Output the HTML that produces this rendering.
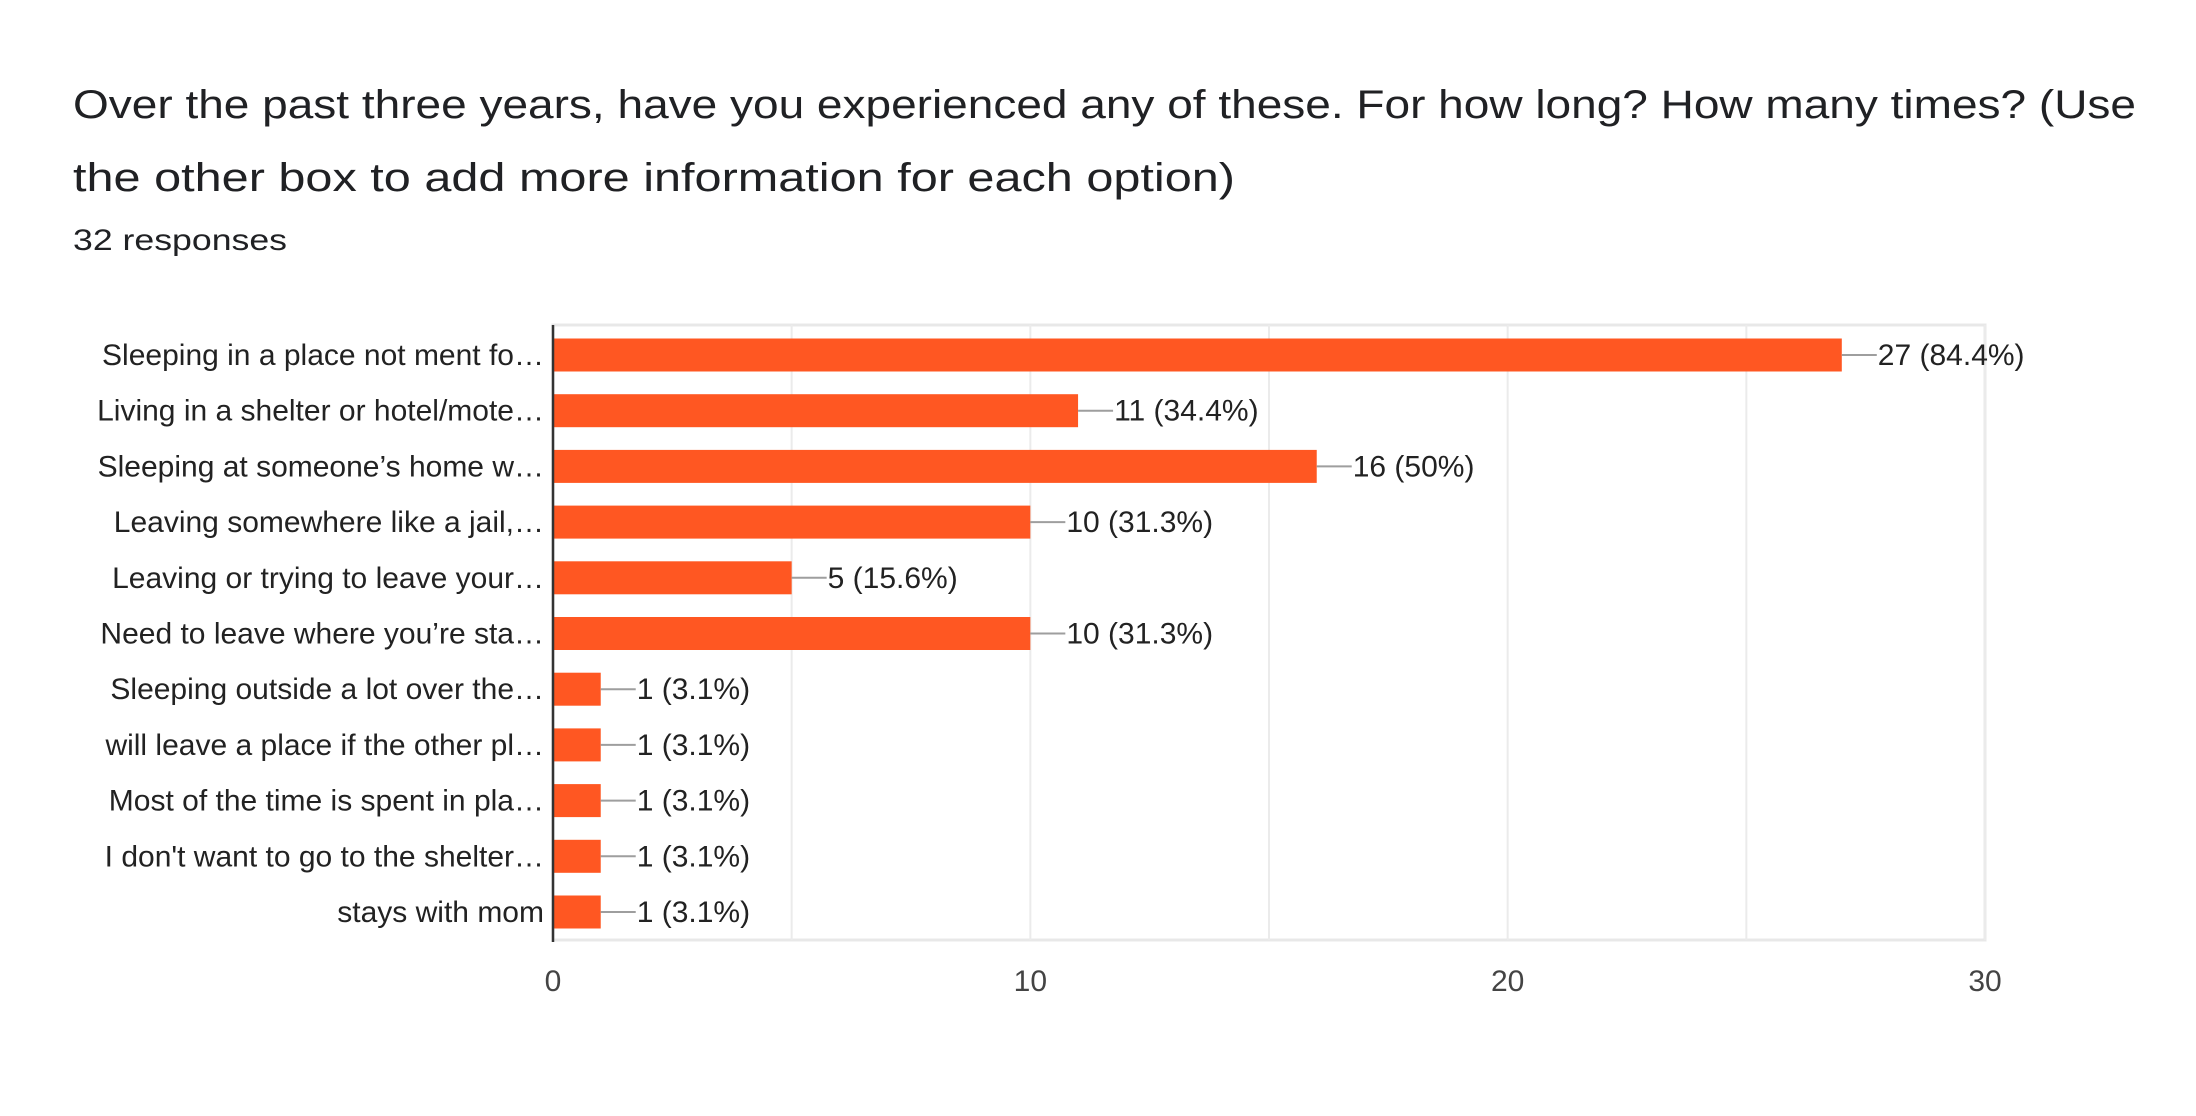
<!DOCTYPE html>
<html><head><meta charset="utf-8"><style>
body{margin:0;background:#fff;}
svg{display:block;font-family:"Liberation Sans",Arial,sans-serif;}
</style></head><body>
<svg width="2196" height="1116" viewBox="0 0 2196 1116" xmlns="http://www.w3.org/2000/svg">
<text x="73" y="118" font-size="40" fill="#202124" textLength="2063" lengthAdjust="spacingAndGlyphs">Over the past three years, have you experienced any of these. For how long? How many times? (Use</text>
<text x="73" y="191" font-size="40" fill="#202124" textLength="1162" lengthAdjust="spacingAndGlyphs">the other box to add more information for each option)</text>
<text x="73" y="250" font-size="30" fill="#202124" textLength="214" lengthAdjust="spacingAndGlyphs">32 responses</text>
<g id="grid"></g>
<g id="bars"></g>
<g id="ticks"></g>
</svg>
<script>
const categories = ["Sleeping in a place not ment fo…","Living in a shelter or hotel/mote…","Sleeping at someone’s home w…","Leaving somewhere like a jail,…","Leaving or trying to leave your…","Need to leave where you’re sta…","Sleeping outside a lot over the…","will leave a place if the other pl…","Most of the time is spent in pla…","I don't want to go to the shelter…","stays with mom"];
const values = [27,11,16,10,5,10,1,1,1,1,1];
const valueLabels = ["27 (84.4%)","11 (34.4%)","16 (50%)","10 (31.3%)","5 (15.6%)","10 (31.3%)","1 (3.1%)","1 (3.1%)","1 (3.1%)","1 (3.1%)","1 (3.1%)"];
const tickValues = [0,10,20,30];
const gridValues = [0,5,10,15,20,25,30];

const NS="http://www.w3.org/2000/svg";
const x0=553, x1=1985, plotTop=325, plotBottom=940, xMax=30;
const xs=v=>x0+(v/xMax)*(x1-x0);
const band=(912-355)/10;
const yc=i=>355+i*band;
const barH=33;
function mk(tag,attrs,parent){const e=document.createElementNS(NS,tag);for(const k in attrs)e.setAttribute(k,attrs[k]);parent.appendChild(e);return e;}
const grid=document.getElementById('grid'), bars=document.getElementById('bars'), ticks=document.getElementById('ticks');
const bg=mk('rect',{x:x0,y:plotTop,width:x1-x0,height:plotBottom-plotTop,fill:'none',stroke:'#e8e8e8','stroke-width':3},grid);


gridValues.forEach(v=>{const l=mk('line',{x1:xs(v),x2:xs(v),y1:plotTop,y2:plotBottom,stroke:'#ebebeb','stroke-width':2},grid);

});
categories.forEach((c,i)=>{
const y=yc(i);
const r=mk('rect',{x:x0,y:y-barH/2,width:xs(values[i])-x0,height:barH,fill:'#ff5722'},bars);


const ld=mk('line',{x1:xs(values[i]),x2:xs(values[i])+35,y1:y,y2:y,stroke:'#9e9e9e','stroke-width':2},bars);


const vt=mk('text',{x:xs(values[i])+36,y:y+10,'font-size':30,fill:'#222'},bars);vt.textContent=valueLabels[i];


const ct=mk('text',{x:x0-9,y:y+10,'font-size':30,fill:'#222','text-anchor':'end'},bars);ct.textContent=c;


});
const ax=mk('line',{x1:x0,x2:x0,y1:plotTop,y2:plotBottom+2,stroke:'#333','stroke-width':2.5},ticks);


tickValues.forEach(v=>{const t=mk('text',{x:xs(v),y:991,'font-size':30,fill:'#444','text-anchor':'middle'},ticks);t.textContent=v;

});
</script>
</body></html>
